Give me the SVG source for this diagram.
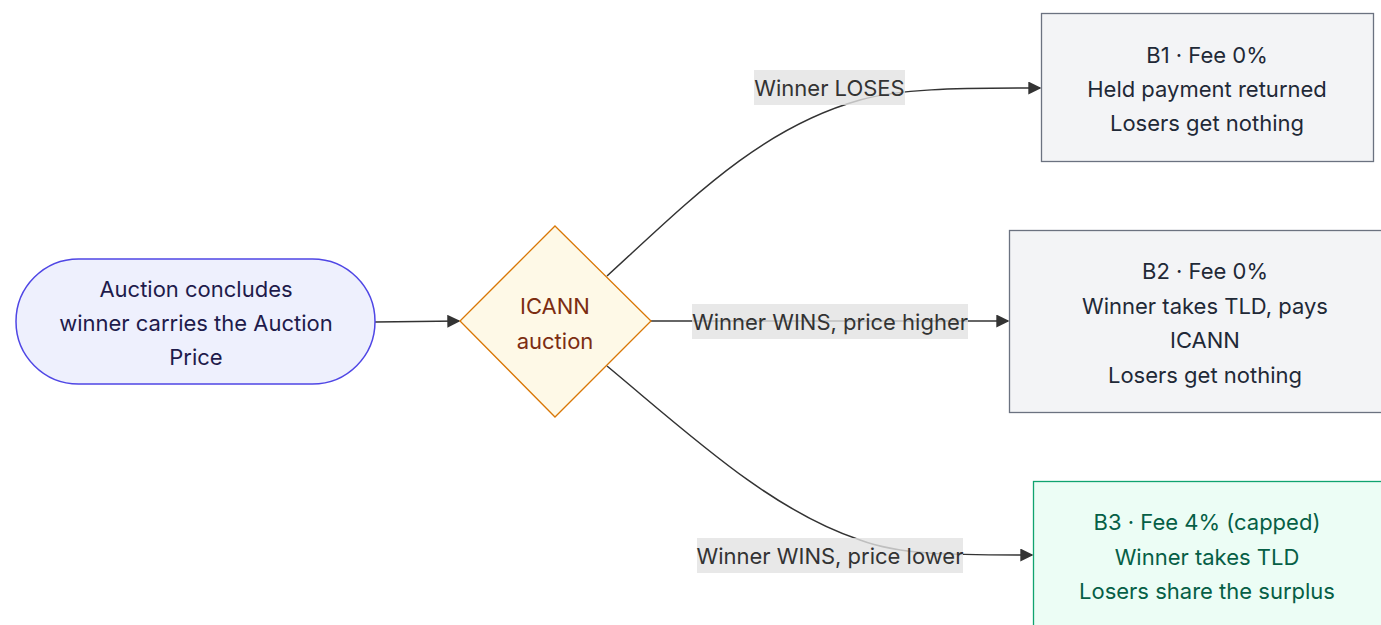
<svg xmlns="http://www.w3.org/2000/svg" width="1381" height="625" viewBox="0 0 1381 625">
<style>
text{font-family:Inter,"Noto Sans","Liberation Sans",sans-serif;font-size:22px;text-anchor:middle;dominant-baseline:central}
.edge{fill:none;stroke:#333;stroke-width:1.5}
.lbl{fill:#e2e2e2;fill-opacity:0.8}
.lt{fill:#333}
.gray{fill:#f3f4f6;stroke:#6b7280;stroke-width:1.3}
.gt{fill:#1f2937}
</style>
<defs>
<marker id="arr" viewBox="0 0 10 10" refX="9" refY="5" markerWidth="13" markerHeight="13" markerUnits="userSpaceOnUse" orient="auto">
<path d="M0,0 L10,5 L0,10 z" fill="#333"/>
</marker>
</defs>
<rect width="1381" height="625" fill="#fff"/>
<g id="connectors">
<path class="edge" d="M375,322 L459,321" marker-end="url(#arr)"/>
<path class="edge" d="M607,276 C690,200 760,128 860,100 C900,89 950,88 1040,88" marker-end="url(#arr)"/>
<path class="edge" d="M651,321 L1008,321" marker-end="url(#arr)"/>
<path class="edge" d="M607,366 C690,435 770,510 860,540 C900,555 950,555 1032,555" marker-end="url(#arr)"/>
<rect class="lbl" x="754" y="70" width="151" height="35"/>
<text class="lt" x="829.5" y="88">Winner LOSES</text>
<rect class="lbl" x="692" y="304" width="276" height="35"/>
<text class="lt" x="830" y="322">Winner WINS, price higher</text>
<rect class="lbl" x="697" y="538" width="266" height="35"/>
<text class="lt" x="830" y="556">Winner WINS, price lower</text>
</g>
<g id="start">
<rect x="16" y="259" width="359" height="125" rx="62.5" ry="62.5" fill="#eef0fd" stroke="#4f46e5" stroke-width="1.5"/>
<text x="196" y="289" fill="#1e1b4b">Auction concludes</text>
<text x="196" y="323" fill="#1e1b4b">winner carries the Auction</text>
<text x="196" y="357" fill="#1e1b4b">Price</text>
</g>
<g id="decision">
<polygon points="555,226 651,321 555,417 460,321" fill="#fef9e7" stroke="#d97706" stroke-width="1.3"/>
<text x="555" y="306" fill="#7c2d12">ICANN</text>
<text x="555" y="341" fill="#7c2d12">auction</text>
</g>
<g id="b1">
<rect class="gray" x="1041.5" y="13.5" width="332" height="148"/>
<text class="gt" x="1207" y="55">B1 · Fee 0%</text>
<text class="gt" x="1207" y="89">Held payment returned</text>
<text class="gt" x="1207" y="123">Losers get nothing</text>
</g>
<g id="b2">
<rect class="gray" x="1009.5" y="230.5" width="380" height="182"/>
<text class="gt" x="1205" y="271">B2 · Fee 0%</text>
<text class="gt" x="1205" y="306">Winner takes TLD, pays</text>
<text class="gt" x="1205" y="340">ICANN</text>
<text class="gt" x="1205" y="375">Losers get nothing</text>
</g>
<g id="b3">
<rect x="1033.5" y="481.5" width="355" height="160" fill="#ecfdf5" stroke="#10a36f" stroke-width="1.3"/>
<text x="1207" y="522" fill="#065f46">B3 · Fee 4% (capped)</text>
<text x="1207" y="557" fill="#065f46">Winner takes TLD</text>
<text x="1207" y="591" fill="#065f46">Losers share the surplus</text>
</g>
</svg>
